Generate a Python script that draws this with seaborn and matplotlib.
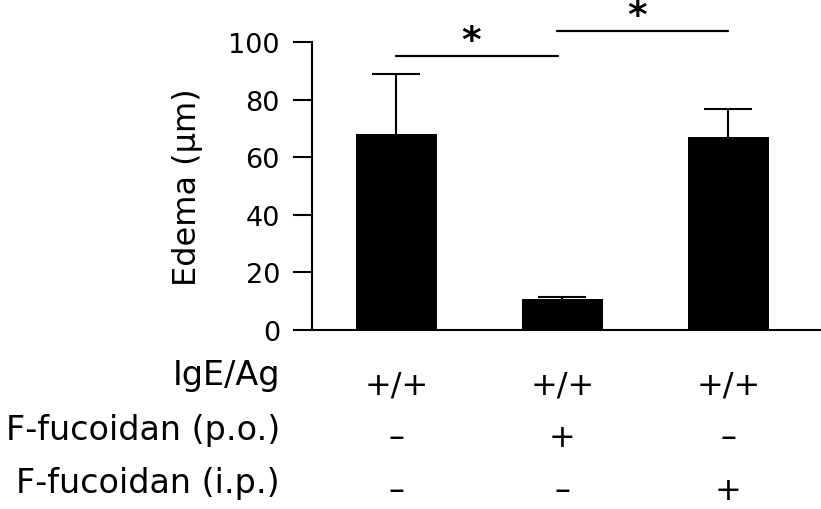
import numpy as np
import matplotlib
matplotlib.use("Agg")
import matplotlib.pyplot as plt
import matplotlib.transforms as mtransforms
import seaborn as sns

# data
groups = ["IgE/Ag", "IgE/Ag + p.o.", "IgE/Ag + i.p."]
edema_mean = [68.2, 10.7, 66.9]
edema_sd = [20.8, 0.8, 9.8]

# treatment table under the bars
row_labels = ["IgE/Ag", "F-fucoidan (p.o.)", "F-fucoidan (i.p.)"]
row_igeag = ["+/+", "+/+", "+/+"]
row_po = ["\u2013", "+", "\u2013"]
row_ip = ["\u2013", "\u2013", "+"]

# significance brackets
sig_pairs = [(0, 1), (1, 2)]
sig_heights = [95.2, 103.7]
sig_marks = ["*", "*"]

sns.set_style("ticks")
plt.rcParams["font.family"] = ["DejaVu Sans"]
plt.rcParams["text.color"] = "black"

W, H = 821, 510
fig = plt.figure(figsize=(W / 100, H / 100), dpi=100)
ax = fig.add_axes([312 / W, 1 - 331 / H, (820 - 312) / W, 288 / H])

sns.barplot(x=groups, y=edema_mean, color="black", saturation=1,
            width=0.49, errorbar=None, ax=ax, linewidth=0)

# upper error bars only (SD)
pos = np.arange(len(groups))
_, caps, _ = ax.errorbar(pos, edema_mean, yerr=[np.zeros(len(groups)), edema_sd],
                         fmt="none", ecolor="black", elinewidth=1.5, capsize=17.5,
                         capthick=1.5, zorder=3)
caps[0].set_visible(False)

ax.set_xlim(-0.509, 2.553)
ax.set_ylim(0, 100)
ax.set_yticks([0, 20, 40, 60, 80, 100])
ax.set_xticks([])
ax.tick_params(axis="y", length=13.7, width=1.5, pad=9.4, labelsize=19.5,
               color="black", labelcolor="black")
sns.despine(ax=ax)
for side in ["left", "bottom"]:
    ax.spines[side].set_linewidth(1.5)
    ax.spines[side].set_color("black")

ax.set_ylabel("Edema (\u03bcm)", fontsize=23, color="black")
ax.yaxis.set_label_coords((203 - 312) / 508, 0.5)

# significance lines and stars
for (i, j), h, m in zip(sig_pairs, sig_heights, sig_marks):
    x1 = i - (0.035 if i > 0 else 0)
    x2 = j - (0.025 if j < len(groups) - 1 else 0)
    ax.plot([x1, x2], [h, h], color="black", lw=1.6, clip_on=False)
    ax.text((x1 + x2) / 2 - 0.035, h + 1.8, m, ha="center", va="baseline",
            fontsize=27, fontweight="bold", color="black", clip_on=False)

# treatment table
trans = mtransforms.blended_transform_factory(ax.transData, fig.transFigure)
label_y = [385, 440, 493]
symbol_y = [395, 447, 500]
for lab, ly, sy, row in zip(row_labels, label_y, symbol_y,
                            [row_igeag, row_po, row_ip]):
    fig.text(280 / W, 1 - ly / H, lab, ha="right", va="baseline", fontsize=24)
    for k, s in enumerate(row):
        ax.text(pos[k], 1 - sy / H, s, transform=trans, ha="center",
                va="baseline", fontsize=23, clip_on=False)

fig.savefig("out.png", dpi=100)
